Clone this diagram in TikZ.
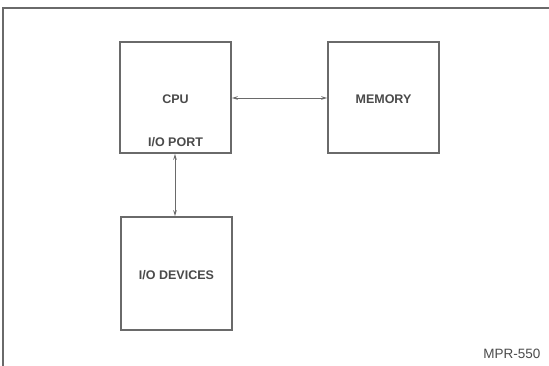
\documentclass[tikz,border=0pt]{standalone}
\usepackage{fontspec}
\setmainfont{Liberation Sans}
\usetikzlibrary{arrows.meta}
\definecolor{ink}{HTML}{6A6A6A}
\definecolor{txt}{HTML}{4A4A4A}
\begin{document}
\begin{tikzpicture}[x=1pt,y=-1pt,
  blk/.style={draw=ink,line width=1.6pt,minimum width=111pt,minimum height=111pt,inner sep=0pt},
  lbl/.style={text=txt,font=\fontsize{12.5}{14}\selectfont\bfseries,inner sep=0pt},
  conn/.style={draw=ink,line width=0.9pt,{Stealth[length=6pt,width=3.5pt]}-{Stealth[length=6pt,width=3.5pt]}}]
\useasboundingbox (0,0) rectangle (549,366);
\draw[ink,line width=1.3pt] (549,8) -- (3,8) -- (3,366);
\node[blk] (cpu) at (175.5,97.5) {};
\node[blk] (mem) at (383.5,97.5) {};
\node[blk,minimum height=113pt] (io) at (176.5,273.5) {};
\node[lbl] (cpul) at (175.5,99) {CPU};
\node[lbl] (port) at (175.5,142) {I/O PORT};
\node[lbl] (meml) at (383.5,99) {MEMORY};
\node[lbl] (iol) at (176.5,275) {I/O DEVICES};
\node[text=txt,font=\fontsize{13.5}{15}\selectfont,inner sep=0pt] (ref) at (512,354) {MPR-550};
\draw[conn] (cpu.east |- 0,98) -- (mem.west |- 0,98);
\draw[conn] (cpu.south -| 175,0) -- (io.north -| 175,0);
\end{tikzpicture}
\end{document}
